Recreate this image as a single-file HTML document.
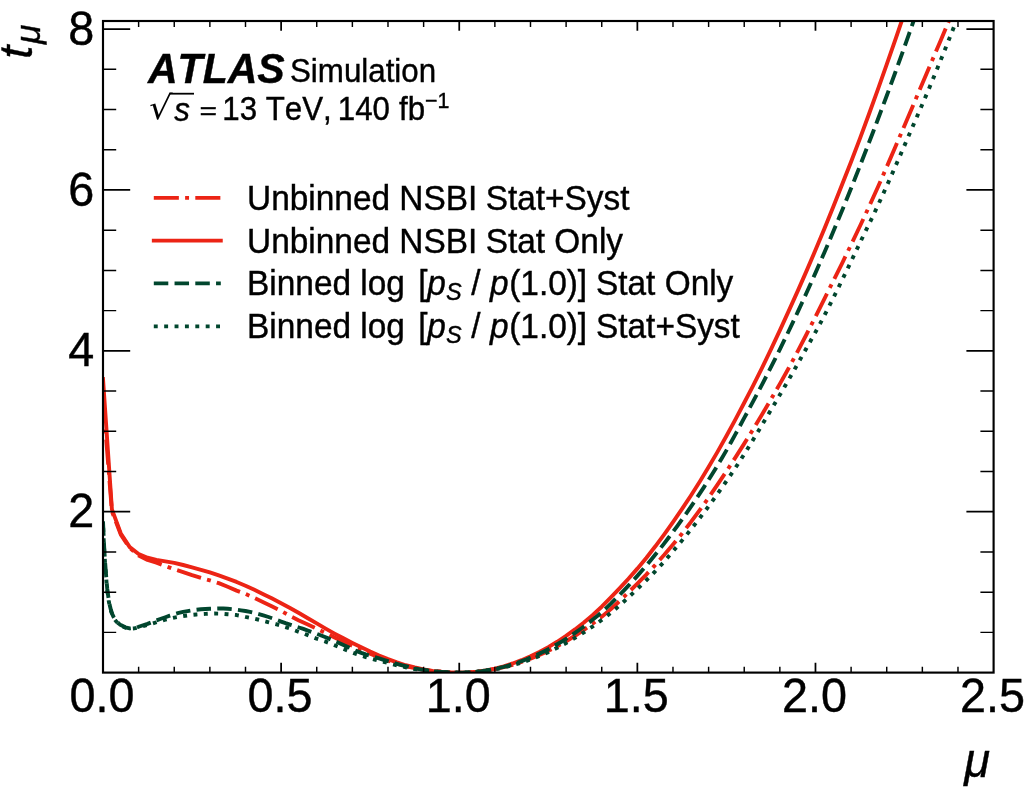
<!DOCTYPE html>
<html lang="en"><head><meta charset="utf-8"><title>t_mu likelihood scan</title>
<style>html,body{margin:0;padding:0;background:#fff;overflow:hidden;}svg{display:block;will-change:transform;font-family:"Liberation Sans",sans-serif;fill:#000;font-kerning:none;font-variant-ligatures:none;}text{stroke:#000;stroke-width:0.4px;}</style>
</head><body>
<svg width="1025" height="789" viewBox="0 0 1025 789">
<rect x="0" y="0" width="1025" height="789" fill="#ffffff"/>
<defs><clipPath id="ax"><rect x="103.0" y="21.0" width="890.6" height="651.6"/></clipPath></defs>
<g clip-path="url(#ax)" fill="none" stroke-linejoin="round">
<path d="M103.00,398.14 L111.91,511.32 L120.81,534.65 L129.72,547.92 L138.62,555.56 L147.53,559.89 L156.44,562.65 L165.34,566.03 L174.25,569.29 L183.15,572.17 L192.06,575.21 L200.97,577.98 L209.87,580.36 L218.78,583.14 L227.68,586.80 L236.59,590.64 L245.50,593.93 L254.40,597.98 L263.31,602.21 L272.21,606.50 L281.12,610.91 L290.03,615.96 L298.93,620.46 L307.84,624.51 L316.74,628.73 L325.65,633.21 L334.56,637.57 L343.46,641.78 L352.37,645.86 L361.27,649.80 L370.18,653.69 L379.09,657.38 L387.99,660.61 L396.90,663.57 L405.80,666.13 L414.71,668.10 L423.62,669.78 L432.52,671.04 L441.43,671.79 L450.33,672.36 L459.24,672.60 L468.15,672.38 L477.05,671.73 L485.96,670.65 L494.86,669.13 L503.77,667.18 L512.68,664.79 L521.58,661.96 L530.49,658.70 L539.39,655.00 L548.30,650.86 L557.21,646.27 L566.11,641.25 L575.02,635.78 L583.92,629.87 L592.83,623.49 L601.74,616.65 L610.64,609.24 L619.55,601.02 L628.45,592.40 L637.36,583.71 L646.27,574.60 L655.17,565.05 L664.08,555.05 L672.98,544.60 L681.89,533.66 L690.80,522.18 L699.70,510.17 L708.61,497.66 L717.51,484.70 L726.42,471.34 L735.33,457.65 L744.23,443.63 L753.14,429.25 L762.04,414.48 L770.95,399.32 L779.86,383.88 L788.76,367.97 L797.67,351.36 L806.57,334.23 L815.48,316.65 L824.39,298.76 L833.29,280.98 L842.20,263.06 L851.10,244.69 L860.01,226.03 L868.92,206.96 L877.82,187.24 L886.73,166.93 L895.63,146.27 L904.54,125.47 L913.45,104.53 L922.35,83.51 L931.26,62.60 L940.16,41.68 L949.07,20.57 L957.98,-0.79 L966.88,-22.30" stroke="#ec2415" stroke-width="3.9" stroke-dasharray="25.06 6.26 3.92 6.26" stroke-dashoffset="0.0"/>
<path d="M103.00,378.99 L111.91,509.31 L120.81,533.44 L129.72,547.11 L138.62,553.95 L147.53,557.74 L156.44,559.87 L165.34,561.36 L174.25,562.83 L183.15,565.01 L192.06,567.34 L200.97,569.77 L209.87,572.42 L218.78,575.43 L227.68,578.62 L236.59,581.95 L245.50,585.68 L254.40,589.81 L263.31,594.15 L272.21,598.60 L281.12,603.23 L290.03,608.02 L298.93,613.04 L307.84,618.24 L316.74,623.42 L325.65,628.58 L334.56,633.59 L343.46,638.34 L352.37,642.92 L361.27,647.28 L370.18,651.53 L379.09,655.54 L387.99,659.10 L396.90,662.39 L405.80,665.26 L414.71,667.48 L423.62,669.39 L432.52,670.83 L441.43,671.69 L450.33,672.33 L459.24,672.60 L468.15,672.35 L477.05,671.59 L485.96,670.33 L494.86,668.56 L503.77,666.28 L512.68,663.48 L521.58,660.18 L530.49,656.35 L539.39,652.01 L548.30,647.15 L557.21,641.78 L566.11,635.88 L575.02,629.44 L583.92,622.47 L592.83,614.94 L601.74,606.72 L610.64,597.74 L619.55,588.39 L628.45,578.77 L637.36,568.63 L646.27,557.94 L655.17,546.56 L664.08,534.60 L672.98,522.18 L681.89,509.23 L690.80,495.74 L699.70,481.71 L708.61,467.10 L717.51,451.88 L726.42,436.00 L735.33,419.58 L744.23,402.78 L753.14,385.53 L762.04,367.77 L770.95,349.39 L779.86,330.38 L788.76,310.92 L797.67,291.13 L806.57,270.87 L815.48,250.05 L824.39,228.63 L833.29,206.66 L842.20,184.30 L851.10,161.72 L860.01,138.41 L868.92,114.21 L877.82,89.55 L886.73,64.47 L895.63,38.87 L904.54,12.74 L913.45,-13.92 L922.35,-41.10" stroke="#ec2415" stroke-width="3.9" stroke-linecap="square"/>
<path d="M103.00,521.37 L103.71,538.10 L104.42,551.94 L105.14,562.76 L105.85,572.05 L106.56,581.19 L107.27,589.04 L107.99,594.55 L108.70,599.30 L109.41,603.39 L110.12,606.84 L110.84,609.65 L111.55,611.94 L112.26,613.93 L112.97,615.67 L113.69,617.16 L114.40,618.41 L115.11,619.45 L115.82,620.39 L116.54,621.26 L117.25,622.06 L117.96,622.79 L118.67,623.45 L119.39,624.04 L120.10,624.57 L120.81,625.02 L125.27,627.28 L129.72,628.43 L134.17,627.99 L138.62,626.77 L143.08,625.26 L147.53,623.82 L151.98,622.15 L156.44,620.38 L160.89,618.77 L165.34,617.22 L169.79,615.69 L174.25,614.24 L178.70,612.96 L183.15,611.94 L187.61,611.11 L192.06,610.35 L196.51,609.71 L200.97,609.24 L205.42,608.96 L209.87,608.76 L214.32,608.60 L218.78,608.51 L223.23,608.51 L227.68,608.74 L232.14,609.17 L236.59,609.73 L241.04,610.36 L245.50,611.02 L249.95,611.88 L254.40,612.95 L258.85,614.15 L263.31,615.42 L267.76,616.75 L272.21,618.29 L276.67,619.94 L281.12,621.61 L285.57,623.19 L290.03,624.65 L294.48,626.07 L298.93,627.50 L303.38,628.97 L307.84,630.54 L312.29,632.15 L316.74,633.82 L321.20,635.53 L325.65,637.29 L330.10,639.12 L334.56,641.02 L339.01,642.94 L343.46,644.92 L347.91,647.01 L352.37,649.11 L356.82,651.11 L361.27,652.89 L365.73,654.43 L370.18,655.83 L374.63,657.15 L379.09,658.46 L383.54,659.81 L387.99,661.20 L392.44,662.57 L396.90,663.88 L401.35,665.09 L405.80,666.23 L410.26,667.31 L414.71,668.28 L419.16,669.11 L423.62,669.86 L428.07,670.55 L432.52,671.13 L436.97,671.57 L441.43,671.88 L445.88,672.15 L450.33,672.38 L454.79,672.54 L459.24,672.60 L463.69,672.54 L468.15,672.37 L472.60,672.08 L477.05,671.67 L481.50,671.15 L485.96,670.51 L490.41,669.75 L494.86,668.88 L499.32,667.89 L503.77,666.78 L508.22,665.55 L512.68,664.21 L517.13,662.74 L521.58,661.16 L526.03,659.46 L530.49,657.64 L534.94,655.70 L539.39,653.64 L543.85,651.46 L548.30,649.17 L552.75,646.76 L557.21,644.22 L561.66,641.57 L566.11,638.80 L570.56,635.90 L575.02,632.88 L579.47,629.74 L583.92,626.47 L588.38,623.08 L592.83,619.55 L597.28,615.90 L601.74,612.11 L606.19,608.12 L610.64,603.90 L615.09,599.48 L619.55,594.93 L624.00,590.31 L628.45,585.61 L632.91,580.78 L637.36,575.83 L641.81,570.76 L646.27,565.57 L650.72,560.26 L655.17,554.83 L659.62,549.28 L664.08,543.60 L668.53,537.79 L672.98,531.86 L677.44,525.81 L681.89,519.63 L686.34,513.34 L690.80,506.92 L695.25,500.37 L699.70,493.68 L704.15,486.86 L708.61,479.90 L713.06,472.78 L717.51,465.51 L721.97,458.05 L726.42,450.36 L730.87,442.44 L735.33,434.37 L739.78,426.18 L744.23,417.94 L748.68,409.71 L753.14,401.43 L757.59,393.04 L762.04,384.54 L766.50,375.93 L770.95,367.19 L775.40,358.32 L779.86,349.34 L784.31,340.23 L788.76,331.00 L793.21,321.65 L797.67,312.16 L802.12,302.53 L806.57,292.76 L811.03,282.87 L815.48,272.84 L819.93,262.70 L824.39,252.43 L828.84,242.06 L833.29,231.56 L837.74,220.95 L842.20,210.21 L846.65,199.33 L851.10,188.29 L855.56,177.09 L860.01,165.75 L864.46,154.32 L868.92,142.82 L873.37,131.24 L877.82,119.53 L882.27,107.70 L886.73,95.75 L891.18,83.67 L895.63,71.46 L900.09,59.13 L904.54,46.68 L908.99,34.10 L913.45,21.39 L917.90,8.56 L922.35,-4.40 L926.80,-17.48 L931.26,-30.69" stroke="#01462e" stroke-width="3.9" stroke-dasharray="14.49 6.26" stroke-dashoffset="0.0"/>
<path d="M103.00,522.98 L103.71,539.71 L104.42,553.55 L105.14,564.37 L105.85,573.66 L106.56,582.83 L107.27,590.68 L107.99,596.04 L108.70,600.60 L109.41,604.51 L110.12,607.79 L110.84,610.48 L111.55,612.69 L112.26,614.63 L112.97,616.33 L113.69,617.78 L114.40,618.99 L115.11,619.99 L115.82,620.90 L116.54,621.74 L117.25,622.50 L117.96,623.20 L118.67,623.83 L119.39,624.40 L120.10,624.90 L120.81,625.34 L125.27,627.60 L129.72,628.75 L134.17,628.38 L138.62,627.36 L143.08,626.10 L147.53,624.94 L151.98,623.63 L156.44,622.25 L160.89,620.97 L165.34,619.73 L169.79,618.56 L174.25,617.58 L178.70,616.77 L183.15,616.02 L187.61,615.37 L192.06,614.84 L196.51,614.46 L200.97,614.13 L205.42,613.85 L209.87,613.63 L214.32,613.52 L218.78,613.59 L223.23,613.91 L227.68,614.25 L232.14,614.59 L236.59,615.05 L241.04,615.90 L245.50,616.95 L249.95,617.84 L254.40,618.72 L258.85,619.75 L263.31,620.93 L267.76,622.09 L272.21,623.17 L276.67,624.32 L281.12,625.63 L285.57,627.06 L290.03,628.62 L294.48,630.29 L298.93,631.90 L303.38,633.48 L307.84,635.17 L312.29,637.01 L316.74,638.70 L321.20,640.16 L325.65,641.66 L330.10,643.40 L334.56,645.23 L339.01,647.02 L343.46,648.87 L347.91,650.71 L352.37,652.49 L356.82,654.18 L361.27,655.71 L365.73,657.07 L370.18,658.33 L374.63,659.52 L379.09,660.68 L383.54,661.86 L387.99,663.05 L392.44,664.21 L396.90,665.31 L401.35,666.32 L405.80,667.26 L410.26,668.16 L414.71,668.96 L419.16,669.65 L423.62,670.29 L428.07,670.87 L432.52,671.37 L436.97,671.74 L441.43,672.00 L445.88,672.23 L450.33,672.42 L454.79,672.55 L459.24,672.60 L463.69,672.55 L468.15,672.40 L472.60,672.14 L477.05,671.78 L481.50,671.33 L485.96,670.76 L490.41,670.10 L494.86,669.33 L499.32,668.47 L503.77,667.49 L508.22,666.42 L512.68,665.24 L517.13,663.96 L521.58,662.58 L526.03,661.09 L530.49,659.50 L534.94,657.81 L539.39,656.01 L543.85,654.12 L548.30,652.11 L552.75,650.01 L557.21,647.80 L561.66,645.48 L566.11,643.06 L570.56,640.54 L575.02,637.91 L579.47,635.18 L583.92,632.34 L588.38,629.39 L592.83,626.33 L597.28,623.17 L601.74,619.89 L606.19,616.51 L610.64,613.00 L615.09,609.32 L619.55,605.47 L624.00,601.47 L628.45,597.35 L632.91,593.16 L637.36,588.94 L641.81,584.68 L646.27,580.32 L650.72,575.87 L655.17,571.30 L659.62,566.62 L664.08,561.78 L668.53,556.57 L672.98,551.26 L677.44,545.99 L681.89,540.62 L686.34,535.15 L690.80,529.58 L695.25,523.91 L699.70,518.13 L704.15,512.25 L708.61,506.26 L713.06,500.17 L717.51,493.96 L721.97,487.64 L726.42,481.20 L730.87,474.63 L735.33,467.94 L739.78,461.12 L744.23,454.15 L748.68,447.01 L753.14,439.73 L757.59,432.35 L762.04,424.89 L766.50,417.41 L770.95,409.94 L775.40,402.43 L779.86,394.86 L784.31,387.23 L788.76,379.53 L793.21,371.76 L797.67,363.89 L802.12,355.94 L806.57,348.00 L811.03,340.08 L815.48,332.09 L819.93,323.93 L824.39,315.51 L828.84,306.77 L833.29,297.91 L837.74,288.93 L842.20,279.85 L846.65,270.66 L851.10,261.37 L855.56,251.98 L860.01,242.67 L864.46,233.47 L868.92,224.29 L873.37,215.04 L877.82,205.59 L882.27,195.88 L886.73,186.00 L891.18,175.99 L895.63,165.86 L900.09,155.65 L904.54,145.37 L908.99,135.07 L913.45,124.81 L917.90,114.58 L922.35,104.29 L926.80,93.87 L931.26,83.22 L935.71,72.41 L940.16,61.47 L944.62,50.41 L949.07,39.25 L953.52,28.02 L957.98,16.72 L962.43,5.34 L966.88,-6.13 L971.33,-17.68 L975.79,-29.32" stroke="#01462e" stroke-width="3.9" stroke-dasharray="3.92 6.46" stroke-dashoffset="-4.9"/>
</g>
<g stroke="#000" fill="none" stroke-linecap="butt">
<path d="M138.62,672.6 v-5.9 M138.62,21.0 v5.9" stroke-width="1.45"/>
<path d="M174.25,672.6 v-5.9 M174.25,21.0 v5.9" stroke-width="1.45"/>
<path d="M209.87,672.6 v-5.9 M209.87,21.0 v5.9" stroke-width="1.45"/>
<path d="M245.50,672.6 v-5.9 M245.50,21.0 v5.9" stroke-width="1.45"/>
<path d="M281.12,672.6 v-9.8 M281.12,21.0 v9.8" stroke-width="1.75"/>
<path d="M316.74,672.6 v-5.9 M316.74,21.0 v5.9" stroke-width="1.45"/>
<path d="M352.37,672.6 v-5.9 M352.37,21.0 v5.9" stroke-width="1.45"/>
<path d="M387.99,672.6 v-5.9 M387.99,21.0 v5.9" stroke-width="1.45"/>
<path d="M423.62,672.6 v-5.9 M423.62,21.0 v5.9" stroke-width="1.45"/>
<path d="M459.24,672.6 v-9.8 M459.24,21.0 v9.8" stroke-width="1.75"/>
<path d="M494.86,672.6 v-5.9 M494.86,21.0 v5.9" stroke-width="1.45"/>
<path d="M530.49,672.6 v-5.9 M530.49,21.0 v5.9" stroke-width="1.45"/>
<path d="M566.11,672.6 v-5.9 M566.11,21.0 v5.9" stroke-width="1.45"/>
<path d="M601.74,672.6 v-5.9 M601.74,21.0 v5.9" stroke-width="1.45"/>
<path d="M637.36,672.6 v-9.8 M637.36,21.0 v9.8" stroke-width="1.75"/>
<path d="M672.98,672.6 v-5.9 M672.98,21.0 v5.9" stroke-width="1.45"/>
<path d="M708.61,672.6 v-5.9 M708.61,21.0 v5.9" stroke-width="1.45"/>
<path d="M744.23,672.6 v-5.9 M744.23,21.0 v5.9" stroke-width="1.45"/>
<path d="M779.86,672.6 v-5.9 M779.86,21.0 v5.9" stroke-width="1.45"/>
<path d="M815.48,672.6 v-9.8 M815.48,21.0 v9.8" stroke-width="1.75"/>
<path d="M851.10,672.6 v-5.9 M851.10,21.0 v5.9" stroke-width="1.45"/>
<path d="M886.73,672.6 v-5.9 M886.73,21.0 v5.9" stroke-width="1.45"/>
<path d="M922.35,672.6 v-5.9 M922.35,21.0 v5.9" stroke-width="1.45"/>
<path d="M957.98,672.6 v-5.9 M957.98,21.0 v5.9" stroke-width="1.45"/>
<path d="M103.0,632.38 h13.2 M993.6,632.38 h-13.2" stroke-width="1.45"/>
<path d="M103.0,592.16 h13.2 M993.6,592.16 h-13.2" stroke-width="1.45"/>
<path d="M103.0,551.94 h13.2 M993.6,551.94 h-13.2" stroke-width="1.45"/>
<path d="M103.0,511.72 h27.2 M993.6,511.72 h-27.2" stroke-width="1.75"/>
<path d="M103.0,471.50 h13.2 M993.6,471.50 h-13.2" stroke-width="1.45"/>
<path d="M103.0,431.28 h13.2 M993.6,431.28 h-13.2" stroke-width="1.45"/>
<path d="M103.0,391.06 h13.2 M993.6,391.06 h-13.2" stroke-width="1.45"/>
<path d="M103.0,350.84 h27.2 M993.6,350.84 h-27.2" stroke-width="1.75"/>
<path d="M103.0,310.62 h13.2 M993.6,310.62 h-13.2" stroke-width="1.45"/>
<path d="M103.0,270.40 h13.2 M993.6,270.40 h-13.2" stroke-width="1.45"/>
<path d="M103.0,230.18 h13.2 M993.6,230.18 h-13.2" stroke-width="1.45"/>
<path d="M103.0,189.96 h27.2 M993.6,189.96 h-27.2" stroke-width="1.75"/>
<path d="M103.0,149.74 h13.2 M993.6,149.74 h-13.2" stroke-width="1.45"/>
<path d="M103.0,109.52 h13.2 M993.6,109.52 h-13.2" stroke-width="1.45"/>
<path d="M103.0,69.30 h13.2 M993.6,69.30 h-13.2" stroke-width="1.45"/>
<path d="M103.0,29.08 h27.2 M993.6,29.08 h-27.2" stroke-width="1.75"/>
</g>
<rect x="103.0" y="21.0" width="890.6" height="651.6" fill="none" stroke="#000" stroke-width="2.15" stroke-linejoin="miter"/>
<text transform="translate(102.00,712.40) scale(0.995,1.04)" font-size="47.0" text-anchor="middle">0.0</text>
<text transform="translate(280.12,712.40) scale(0.995,1.04)" font-size="47.0" text-anchor="middle">0.5</text>
<text transform="translate(458.24,712.40) scale(0.995,1.04)" font-size="47.0" text-anchor="middle">1.0</text>
<text transform="translate(636.36,712.40) scale(0.995,1.04)" font-size="47.0" text-anchor="middle">1.5</text>
<text transform="translate(814.48,712.40) scale(0.995,1.04)" font-size="47.0" text-anchor="middle">2.0</text>
<text transform="translate(992.60,712.40) scale(0.995,1.04)" font-size="47.0" text-anchor="middle">2.5</text>
<text transform="translate(94.20,527.32) scale(0.995,1.04)" font-size="47.0" text-anchor="end">2</text>
<text transform="translate(94.20,366.44) scale(0.995,1.04)" font-size="47.0" text-anchor="end">4</text>
<text transform="translate(94.20,205.56) scale(0.995,1.04)" font-size="47.0" text-anchor="end">6</text>
<text transform="translate(94.20,44.68) scale(0.995,1.04)" font-size="47.0" text-anchor="end">8</text>
<text transform="translate(990.10,777.20) scale(1.0,1.04)" font-size="47" text-anchor="end" font-style="italic">μ</text>
<text transform="translate(32.2,58.7) rotate(-90)" font-style="italic" font-size="47">t</text>
<text transform="translate(40.0,44.1) rotate(-90)" font-style="italic" font-size="35.5">μ</text>
<g transform="matrix(1 0 0 1.03 0 -2.478)"><text x="148.0" y="82.6" font-size="41.0" font-weight="bold" font-style="italic">ATLAS</text></g>
<g transform="matrix(1 0 0 1.035 0 -2.870)"><text x="290.0" y="82.0" font-size="31.3">Simulation</text></g>
<text transform="translate(147.9,119.0) skewX(-4.96) scale(1.073,1)" font-size="32.8" font-family="DejaVu Sans, sans-serif" style="stroke:none">√</text>
<path d="M169.6,93.7 H194.0" fill="none" stroke="#000" stroke-width="1.8"/>
<g font-size="31.3" transform="matrix(1 0 0 1.035 0 -4.193)">
<text x="174.2" y="120.6" font-style="italic">s</text>
<text x="222.3" y="119.8">13</text>
<text x="265.7" y="119.8">TeV,</text>
<text x="337.8" y="119.8">140</text>
<text x="399.1" y="119.8">fb</text>
</g>
<g transform="matrix(1 0 0 1.035 0 -3.769)"><text x="425.0" y="107.7" font-size="21.4">−1</text></g>
<text transform="translate(199.4,119.4) scale(0.96,0.754)" font-size="31.3">=</text>
<g fill="none">
<path d="M153.8,197.9 H220.8" stroke="#ec2415" stroke-width="3.9" stroke-dasharray="25.06 6.26 3.92 6.26"/>
<path d="M153.8,240.6 H220.8" stroke="#ec2415" stroke-width="3.9" stroke-linecap="square"/>
<path d="M153.8,283.4 H220.8" stroke="#01462e" stroke-width="3.9" stroke-dasharray="14.49 6.26"/>
<path d="M153.8,326.4 H220.8" stroke="#01462e" stroke-width="3.9" stroke-dasharray="3.92 6.46"/>
</g>
<g font-size="33.4" transform="matrix(1 0 0 1.03 0 -6.303)"><text x="247.1" y="210.1">Unbinned NSBI <tspan x="485.7">Stat+Syst</tspan></text></g>
<g font-size="33.4" transform="matrix(1 0 0 1.03 0 -7.584)"><text x="247.1" y="252.8">Unbinned NSBI <tspan x="485.7">Stat Only</tspan></text></g>
<g font-size="33.4" transform="matrix(1 0 0 1.03 0 -8.850)"><text x="247.1" y="295.0">Binned log <tspan x="418.2">[</tspan><tspan x="427.3" font-style="italic">p</tspan><tspan x="446.0" font-style="italic" font-size="23.5" dy="5.3">S</tspan> <tspan x="471.3" dy="-5.3">/</tspan> <tspan x="490.1" font-style="italic">p</tspan><tspan x="509.2">(1.0)]</tspan> <tspan x="596.0">Stat Only</tspan></text></g>
<g font-size="33.4" transform="matrix(1 0 0 1.03 0 -10.140)"><text x="247.1" y="338.0">Binned log <tspan x="418.2">[</tspan><tspan x="427.3" font-style="italic">p</tspan><tspan x="446.0" font-style="italic" font-size="23.5" dy="5.3">S</tspan> <tspan x="471.3" dy="-5.3">/</tspan> <tspan x="490.1" font-style="italic">p</tspan><tspan x="509.2">(1.0)]</tspan> <tspan x="596.0">Stat+Syst</tspan></text></g>
</svg>
</body></html>
